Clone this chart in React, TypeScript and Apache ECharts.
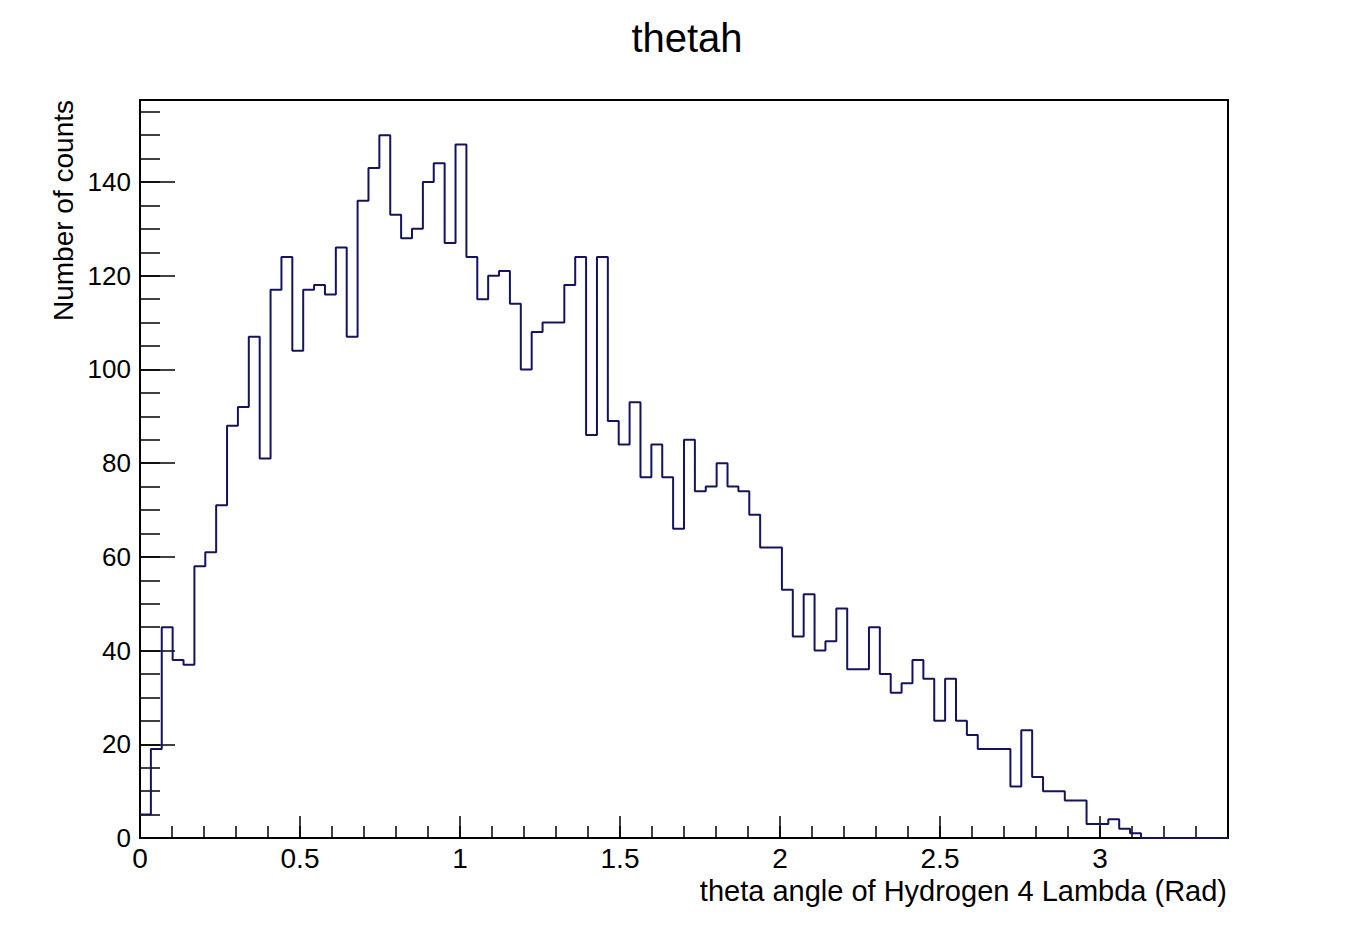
import React, { useEffect, useRef } from "react";
import * as echarts from "echarts";

// Histogram "thetah": 100 bins from 0 to 3.4 rad
const xMin = 0;
const xMax = 3.4;
const binCount = 100;
const counts = [
  5, 19, 45, 38, 37, 58, 61, 71, 88, 92,
  107, 81, 117, 124, 104, 117, 118, 116, 126, 107,
  136, 143, 150, 133, 128, 130, 140, 144, 127, 148,
  124, 115, 120, 121, 114, 100, 108, 110, 110, 118,
  124, 86, 124, 89, 84, 93, 77, 84, 77, 66,
  85, 74, 75, 80, 75, 74, 69, 62, 62, 53,
  43, 52, 40, 42, 49, 36, 36, 45, 35, 31,
  33, 38, 34, 25, 34, 25, 22, 19, 19, 19,
  11, 23, 13, 10, 10, 8, 8, 3, 3, 4,
  2, 1, 0, 0, 0, 0, 0, 0, 0, 0,
];
const yMax = 157.5;
const titleText = "thetah";
const xTitle = "theta angle of Hydrogen 4 Lambda (Rad)";
const yTitle = "Number of counts";

const FONT = "'Liberation Sans', Arial, Helvetica, sans-serif";

export default function App() {
  const ref = useRef<HTMLDivElement>(null);
  useEffect(() => {
    document.body.style.margin = "0";
    if (!ref.current) return;
    const chart = echarts.init(ref.current, null, { renderer: "svg" });
    const binWidth = (xMax - xMin) / binCount;
    const stepData: [number, number][] = counts.map((c, i) => [
      +(xMin + i * binWidth).toFixed(6),
      c,
    ]);
    stepData.push([xMax, counts[counts.length - 1]]);

    chart.setOption({
      animation: false,
      backgroundColor: "#fff",
      textStyle: { fontFamily: FONT },
      grid: {
        left: 140,
        top: 100,
        right: 124,
        bottom: 91,
        show: true,
        borderColor: "#000",
        borderWidth: 2,
        backgroundColor: "transparent",
      },
      xAxis: [
        {
          type: "value",
          position: "bottom",
          min: xMin,
          max: xMax,
          interval: 0.5,
          axisLine: { show: false },
          axisTick: { show: true, inside: true, length: 22, lineStyle: { color: "#000", width: 1.5 } },
          axisLabel: {
            fontSize: 28,
            lineHeight: 28,
            color: "#000",
            margin: 6,
            showMaxLabel: false,
            fontFamily: FONT,
          },
          splitLine: { show: false },
        },
        {
          type: "value",
          position: "bottom",
          min: xMin,
          max: xMax,
          interval: 0.1,
          axisLine: { show: false },
          axisTick: { show: true, inside: true, length: 12, lineStyle: { color: "#000", width: 1.5 } },
          axisLabel: { show: false },
          splitLine: { show: false },
        },
      ],
      yAxis: [
        {
          type: "value",
          position: "left",
          min: 0,
          max: yMax,
          interval: 20,
          axisLine: { show: false },
          axisTick: { show: true, inside: true, length: 35, lineStyle: { color: "#000", width: 1.5 } },
          axisLabel: { fontSize: 26, color: "#000", margin: 9, showMaxLabel: false, fontFamily: FONT },
          splitLine: { show: false },
        },
        {
          type: "value",
          position: "left",
          min: 0,
          max: yMax,
          interval: 5,
          axisLine: { show: false },
          axisTick: { show: true, inside: true, length: 20, lineStyle: { color: "#000", width: 1.5 } },
          axisLabel: { show: false },
          splitLine: { show: false },
        },
      ],
      series: [
        {
          type: "line",
          xAxisIndex: 0,
          yAxisIndex: 0,
          step: "end",
          showSymbol: false,
          symbol: "none",
          data: stepData,
          lineStyle: { color: "#14145e", width: 2 },
          z: 5,
        },
      ],
      graphic: [
        {
          type: "text",
          x: 687,
          y: 18,
          style: {
            text: titleText,
            fontSize: 40,
            fontFamily: FONT,
            fill: "#000",
            textAlign: "center",
            textVerticalAlign: "top",
          },
        },
        {
          type: "text",
          x: 1227,
          y: 876,
          style: {
            text: xTitle,
            fontSize: 29,
            fontFamily: FONT,
            fill: "#000",
            textAlign: "right",
            textVerticalAlign: "top",
          },
        },
        {
          type: "text",
          x: 63,
          y: 100,
          rotation: Math.PI / 2,
          style: {
            text: yTitle,
            fontSize: 28,
            fontFamily: FONT,
            fill: "#000",
            textAlign: "right",
            textVerticalAlign: "middle",
          },
        },
      ],
    });
    return () => chart.dispose();
  }, []);
  return <div ref={ref} style={{ width: 1352, height: 929 }} />;
}
